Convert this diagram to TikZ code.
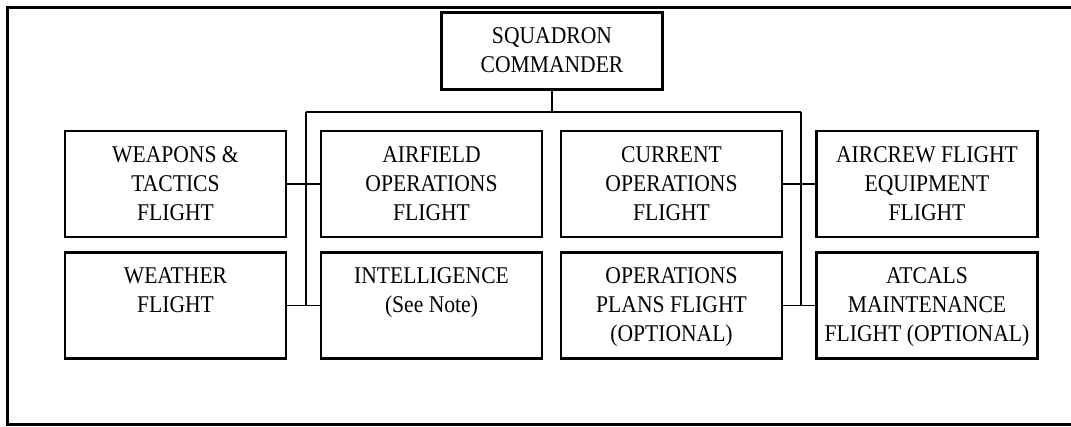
\documentclass[tikz,border=0pt]{standalone}
\usepackage{fontspec}
\setmainfont{Liberation Serif}[FakeStretch=0.9]
\usetikzlibrary{positioning}
\newcommand{\unittext}[2][106pt]{\parbox[c][#1][t]{221pt}{\centering\vspace*{11pt}\strut#2}}
\tikzset{
    unit/.style={draw, line width=2.6pt, inner sep=0pt, font=\fontsize{24}{29}\selectfont},
    link/.style={line width=1.2pt}
}

\begin{document}
\begin{tikzpicture}[x=1pt, y=1pt]
    \useasboundingbox (0, 0) rectangle (1071, 426);
    \draw[line width=3pt] (1071, 418.7) -- (7.6, 418.7) -- (7.6, 1.5) -- (1071, 1.5);
    \node[unit] (cmd) at (552, 375) {\unittext[77pt]{SQUADRON\\COMMANDER}};
    \node[unit] (wt) at (175.5, 242) {\unittext{WEAPONS \&\\TACTICS\\FLIGHT}};
    \node[unit] (af) at (431.5, 242) {\unittext{AIRFIELD\\OPERATIONS\\FLIGHT}};
    \node[unit] (cur) at (671.5, 242) {\unittext{CURRENT\\OPERATIONS\\FLIGHT}};
    \node[unit] (afe) at (927, 242) {\unittext{AIRCREW FLIGHT\\EQUIPMENT\\FLIGHT}};
    \node[unit] (wx) at (175.5, 120.5) {\unittext{WEATHER\\FLIGHT}};
    \node[unit] (intel) at (431.5, 120.5) {\unittext{INTELLIGENCE\\(See Note)}};
    \node[unit] (opp) at (671.5, 120.5) {\unittext{OPERATIONS\\PLANS FLIGHT\\(OPTIONAL)}};
    \node[unit] (atc) at (927, 120.5) {\unittext{ATCALS\\MAINTENANCE\\FLIGHT (OPTIONAL)}};
    \coordinate (busL) at (306, 314);
    \coordinate (busR) at (801, 314);
    \draw[link]
    (cmd) -- (cmd |- busL)
    (busL) -- (busR)
    (busL) -- (busL |- wx.east)
    (busR) -- (busR |- atc.west)
    (wt) -- (af)
    (wx) -- (intel)
    (cur) -- (afe)
    (opp) -- (atc);
\end{tikzpicture}
\end{document}
